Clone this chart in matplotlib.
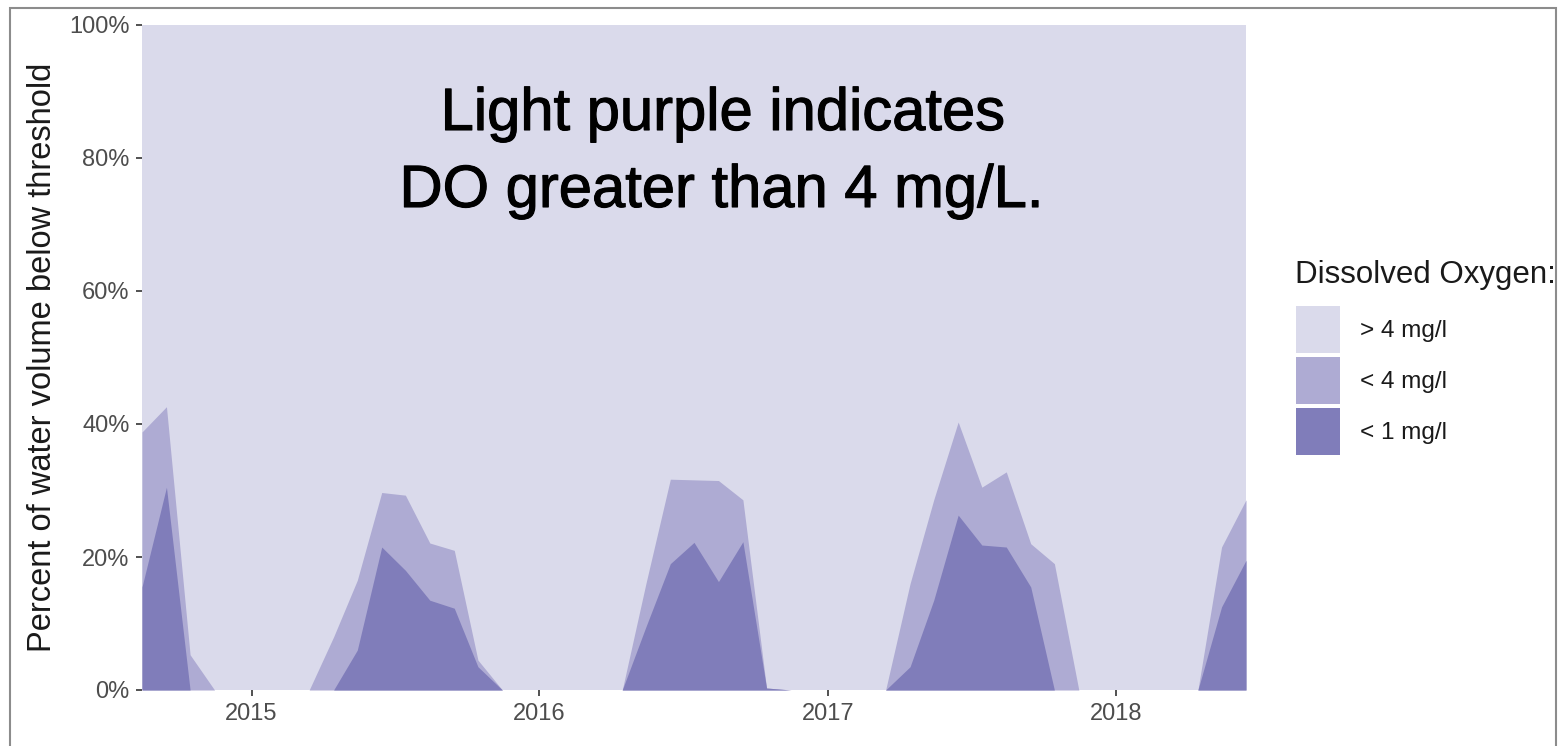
import matplotlib
matplotlib.use("Agg")
import matplotlib.pyplot as plt
import matplotlib.dates as mdates
import matplotlib.patheffects as pe
from matplotlib.patches import Patch, Rectangle
from matplotlib.ticker import PercentFormatter
import pandas as pd

plt.rcParams["font.family"] = ["Liberation Sans", "DejaVu Sans"]

# monthly samples, mid-month, Aug 2014 .. Jun 2018
dates = pd.date_range("2014-08-01", "2018-06-01", freq="MS") + pd.Timedelta(days=14)

# percent of water volume below 4 mg/l (includes the < 1 mg/l part)
below4 = [38.8, 42.6, 5.3, 0, 0, 0, 0, 0, 8.0, 16.5, 29.7, 29.3, 22.1, 21.0, 4.5,
          0, 0, 0, 0, 0, 0, 16.0, 31.7, 31.6, 31.5, 28.6, 0.3,
          0, 0, 0, 0, 0, 16.0, 28.6, 40.3, 30.5, 32.8, 22.0, 19.0,
          0, 0, 0, 0, 0, 0, 21.5, 28.6]
# percent of water volume below 1 mg/l
below1 = [15.5, 30.5, 0, 0, 0, 0, 0, 0, 0, 6.0, 21.5, 18.0, 13.5, 12.3, 3.5,
          0, 0, 0, 0, 0, 0, 9.5, 19.0, 22.2, 16.3, 22.3, 0.3,
          0, 0, 0, 0, 0, 3.5, 13.5, 26.3, 21.8, 21.5, 15.5, 0,
          0, 0, 0, 0, 0, 0, 12.5, 19.5]

labels = ["> 4 mg/l", "< 4 mg/l", "< 1 mg/l"]
colors = ["#dadaeb", "#aeabd3", "#807dba"]

W, H = 1568, 746
fig = plt.figure(figsize=(W / 100, H / 100), dpi=100)
ax = fig.add_axes([142 / W, 1 - 690 / H, (1246 - 142) / W, (690 - 25) / H])

ax.fill_between(dates, 0, 100, color=colors[0], lw=0)
ax.fill_between(dates, 0, below4, color=colors[1], lw=0)
ax.fill_between(dates, 0, below1, color=colors[2], lw=0)

ax.set_xlim(dates[0], dates[-1])
ax.set_ylim(0, 100)
ax.set_yticks(range(0, 101, 20))
ax.yaxis.set_major_formatter(PercentFormatter(xmax=100, decimals=0))
ax.xaxis.set_major_locator(mdates.YearLocator())
ax.xaxis.set_major_formatter(mdates.DateFormatter("%Y"))
for s in ax.spines.values():
    s.set_visible(False)
ax.tick_params(length=4, width=1.2, color="#333333", labelcolor="#4d4d4d",
               labelsize=17, pad=5)
ax.set_ylabel("Percent of water volume below threshold", fontsize=23.5,
              color="#1a1a1a", labelpad=8)

semibold = [pe.withStroke(linewidth=0.8, foreground="black")]
fig.text(723 / W, 1 - 130 / H, "Light purple indicates", ha="center",
         va="baseline", fontsize=43, color="black", path_effects=semibold)
fig.text(722 / W, 1 - 207 / H, "DO greater than 4 mg/L.", ha="center",
         va="baseline", fontsize=43, color="black", path_effects=semibold)

# legend
fig.text(1295 / W, 1 - 283 / H, "Dissolved Oxygen:", ha="left", va="baseline",
         fontsize=22.5, color="#1a1a1a")
handles = [Patch(facecolor=c, edgecolor="none") for c in colors]
leg = fig.legend(handles, labels, loc="upper left",
                 bbox_to_anchor=(1296 / W, 1 - 306 / H), frameon=False,
                 fontsize=17.5, handlelength=1.8, handleheight=2.59,
                 labelspacing=0.17, handletextpad=0.85,
                 borderpad=0, borderaxespad=0)
for t in leg.get_texts():
    t.set_color("#1a1a1a")

fig.patches.append(Rectangle((10 / W, -0.05), (1556 - 10) / W, 1.05 - 8 / H,
                             transform=fig.transFigure, fill=False,
                             ec="#8c8c8c", lw=1.5, clip_on=False))

fig.savefig("out.png", dpi=100)
